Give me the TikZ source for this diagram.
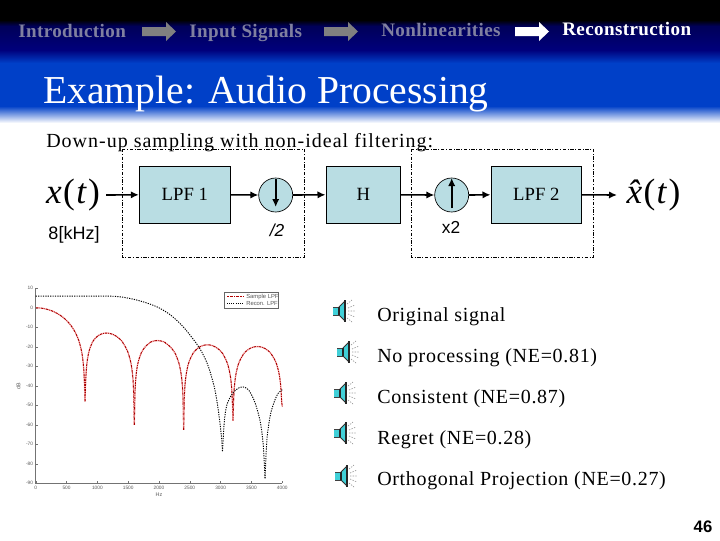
\documentclass[tikz,border=0pt]{standalone}
\usepackage{fontspec}
\setmainfont{Liberation Serif}
\setsansfont{Liberation Sans}
\usetikzlibrary{arrows.meta}
\definecolor{navytop}{HTML}{000058}
\definecolor{navybot}{HTML}{00007C}
\definecolor{bandblue}{HTML}{0040C8}
\definecolor{boxfill}{HTML}{B9DDE3}
\definecolor{crumb}{HTML}{8080A0}
\definecolor{crumbarrow}{HTML}{808080}
\definecolor{spk}{HTML}{40D0D8}
\newcommand{\bodyfont}{\fontsize{15}{18}\selectfont\addfontfeature{LetterSpace=3.4}}
\newcommand{\mathish}{\fontsize{26.5}{30}\selectfont}
\tikzset{
  x=0.75pt,y=-0.75pt,
  block/.style={draw=black,line width=0.7pt,fill=boxfill,inner sep=0pt},
  rate/.style={circle,draw=black,line width=0.5pt,fill=boxfill,inner sep=0pt,minimum size=25.5pt},
  conn/.style={draw=black,line width=1.2pt,-{Latex[length=6pt,width=5.5pt]}},
  inner arrow/.style={draw=black,line width=1.2pt,-{Latex[length=6pt,width=5.5pt]}},
  group box/.style={draw=black,line width=0.5pt,dash pattern=on 2.5pt off 1.2pt on 0.8pt off 1.2pt},
  blocktext/.style={font=\fontsize{14}{16}\selectfont},
  sanslabel/.style={font=\sffamily\fontsize{13.5}{15}\selectfont,inner sep=0pt},
  crumbtext/.style={font=\bfseries\fontsize{14.3}{15}\selectfont\addfontfeature{LetterSpace=2},anchor=base west,inner sep=0pt,text=crumb},
  menuarrow/.style={fill=crumbarrow,draw=none},
  listtext/.style={font=\bodyfont,anchor=base west,inner sep=0pt},
  tick label/.style={font=\sffamily\fontsize{3.6}{4}\selectfont,text=black!65,inner sep=0pt},
  speaker/.pic={
    \fill[spk] (-11,-4) rectangle (-5,4);
    \fill[spk] (-5,-4) -- (1,-10) -- (1,10) -- (-5,4) -- cycle;
    \draw[black!75,line width=0.6pt] (-11,-4) -- (-5,-4) (-11,4) -- (-5,4);
    \draw[black!85,line width=0.9pt] (-5,-4) -- (-5,4);
    \draw[black!80,line width=0.6pt] (-5,-4) -- (1,-10);
    \draw[black!80,line width=0.6pt] (-5,4) -- (1,10);
    \draw[black!85,line width=1.1pt] (1,-11) -- (1,11);
    \draw[black!40,line width=0.5pt,dash pattern=on 1pt off 1pt] (4,-3) -- (11,-6) (4,0) -- (12,0) (4,3) -- (11,6) (3,-7) -- (8,-11) (3,7) -- (8,11);
  }
}
\newcommand{\hdrarrow}[1]{(#1,27) -- (#1+24,27) -- (#1+24,22) -- (#1+34,31.5) -- (#1+24,41) -- (#1+24,36) -- (#1,36) -- cycle}
\begin{document}
\begin{tikzpicture}
\useasboundingbox (0,0) rectangle (720,540);
\fill[white] (0,0) rectangle (720,540);
% header bands
\fill[black] (0,0) rectangle (720,20);
\shade[top color=black,bottom color=navytop] (0,20) rectangle (720,26);
\shade[top color=navytop,bottom color=navybot] (0,26) rectangle (720,50);
\shade[top color=navybot,bottom color=bandblue] (0,50) rectangle (720,63);
\fill[bandblue] (0,63) rectangle (720,106);
\shade[top color=bandblue,bottom color=white] (0,106) rectangle (720,123);
% breadcrumb
\node[crumbtext] (crumbA) at (18,37) {Introduction};
\node[crumbtext] (crumbB) at (189,37) {Input Signals};
\node[crumbtext] (crumbC) at (381,36) {Nonlinearities};
\node[crumbtext,text=white] (crumbD) at (562,35.5) {Reconstruction};
\fill[menuarrow] \hdrarrow{142};
\fill[menuarrow] \hdrarrow{324};
\fill[white] \hdrarrow{515};
% title
\node[anchor=base west,inner sep=0pt,text=white,font=\fontsize{29.7}{34}\selectfont] (title) at (43,103) {Example: Audio Processing};
\node[listtext,font=\fontsize{15}{18}\selectfont\addfontfeature{LetterSpace=5}] (intro) at (46,147) {Down-up sampling with non-ideal filtering:};
% dash-dot groups
\draw[group box] (122.3,149) rectangle (304.3,257.3);
\draw[group box] (411.7,149) rectangle (593.3,257.3);
% blocks
\node[block,blocktext,minimum width=68.25pt,minimum height=42.4pt] (lpfa) at (184.8,194.8) {LPF 1};
\node[rate] (dn) at (275.7,195) {};
\node[block,blocktext,minimum width=56pt,minimum height=42.4pt] (hb) at (363.3,194.8) {H};
\node[rate] (up) at (451.7,195) {};
\node[block,blocktext,minimum width=68pt,minimum height=42.4pt] (lpfb) at (536.3,194.8) {LPF 2};
\node[inner xsep=4.5pt,inner ysep=0pt,font=\mathish] (xin) at (73,195) {{\itshape x}\kern1pt(\kern1pt{\itshape t}\kern1.5pt)};
\node[anchor=west,inner xsep=7pt,inner ysep=0pt,font=\mathish] (xout) at (617,195) {{\itshape\^x}\kern1pt(\kern1pt{\itshape t}\kern1.5pt)};
\draw[conn] (xin.east) -- (lpfa.west);
\draw[conn] (lpfa.east) -- (dn.west);
\draw[conn] (dn.east) -- (hb.west);
\draw[conn] (hb.east) -- (up.west);
\draw[conn] (up.east) -- (lpfb.west);
\draw[conn] (lpfb.east) -- (xout.west);
\coordinate (dnA) at (275.7,179);
\coordinate (dnB) at (275.7,207);
\coordinate (upA) at (451.7,208);
\coordinate (upB) at (451.7,178);
\draw[inner arrow] (dnA) -- (dnB);
\draw[inner arrow] (upA) -- (upB);
\node[sanslabel] (rateA) at (74,235) {8[kHz]};
\node[sanslabel,font=\sffamily\itshape\fontsize{13}{15}\selectfont] (rateB) at (277,230) {/2};
\node[sanslabel,font=\sffamily\fontsize{13}{15}\selectfont] (rateC) at (451,227) {x2};
% plot
\begin{scope}[shift={(35.7,307.8)},x=0.04624pt,y=1.4625pt]
  \draw[black!55,line width=0.5pt] (0,10) -- (0,-90) -- (4000,-90);
  \foreach \t in {0,500,...,4000} {
    \draw[black!55,line width=0.3pt] (\t,-90) -- (\t,-89);
    \node[tick label,anchor=north] at (\t,-91.2) {\t};
  }
  \foreach \d in {10,0,-10,-20,-30,-40,-50,-60,-70,-80,-90} {
    \draw[black!55,line width=0.3pt] (0,\d) -- (35,\d);
    \node[tick label,anchor=east] at (-40,\d) {\d};
  }
  \node[tick label,font=\sffamily\fontsize{4}{4}\selectfont] at (2000,-96) {Hz};
  \node[tick label,font=\sffamily\fontsize{4}{4}\selectfont,rotate=90] at (-280,-40) {dB};
  % sample LPF
  \foreach \a/\b/\la/\lb in {5/800/-48/-48,800/1600/-48/-60,1600/2400/-60/-62.6,2400/3200/-62.6/-58,3200/4000/-58/-50.7} {
    \pgfmathsetmacro{\m}{(\a+\b)/2}
    \draw[red!25,line width=1pt] plot[domain=\a:\b,samples=81] (\x,{max(20*log10(abs(sin(0.225*\x))/(10*sin(0.0225*\x))+0.00002),(\x<\m?\la:\lb))});
    \draw[red!65!black,line width=0.7pt,dash pattern=on 1.8pt off 0.7pt on 0.6pt off 0.7pt] plot[domain=\a:\b,samples=81] (\x,{max(20*log10(abs(sin(0.225*\x))/(10*sin(0.0225*\x))+0.00002),(\x<\m?\la:\lb))});
  }
  % reconstruction LPF
  \begin{scope}[black,line width=0.7pt,dash pattern=on 0.9pt off 0.9pt]
    \draw plot[smooth,tension=0.5] coordinates {(0,6) (800,6) (1200,6) (1400,5.5) (1600,4.3) (1800,2.5) (2000,0) (2200,-4) (2400,-10) (2600,-18) (2700,-23) (2800,-30) (2900,-41) (2960,-52) (3010,-65) (3030,-73.5)};
    \draw plot[smooth,tension=0.5] coordinates {(3030,-73.5) (3060,-58) (3100,-50) (3170,-45) (3250,-42) (3350,-40.5) (3450,-42) (3550,-48) (3640,-58) (3690,-70) (3720,-87.5)};
    \draw plot[smooth,tension=0.5] coordinates {(3720,-87.5) (3750,-68) (3800,-56) (3860,-49) (3930,-44) (4000,-42)};
  \end{scope}
\end{scope}
% legend
\draw[black!60,line width=0.35pt,fill=white] (224,292) rectangle (278,308);
\draw[red!70!black,line width=0.5pt,dash pattern=on 1.5pt off 0.6pt on 0.5pt off 0.6pt] (227,296.5) -- (244,296.5);
\draw[black,line width=0.5pt,dash pattern=on 0.8pt off 0.8pt] (227,303.5) -- (244,303.5);
\node[tick label,anchor=west,font=\sffamily\fontsize{4.4}{5}\selectfont] (legA) at (246,296.5) {Sample LPF};
\node[tick label,anchor=west,font=\sffamily\fontsize{4.4}{5}\selectfont] (legB) at (246,303.5) {Recon. LPF};
% speakers and list
\pic at (344,311) {speaker};
\pic at (348,352) {speaker};
\pic at (345,393) {speaker};
\pic at (345,433) {speaker};
\pic at (346,476) {speaker};
\node[listtext] (lA) at (377,321) {Original signal};
\node[listtext] (lB) at (377,362) {No processing (NE=0.81)};
\node[listtext] (lC) at (377,403) {Consistent (NE=0.87)};
\node[listtext] (lD) at (377,444) {Regret (NE=0.28)};
\node[listtext] (lE) at (377,485) {Orthogonal Projection (NE=0.27)};
\node[inner sep=0pt,font=\sffamily\bfseries\fontsize{12.5}{14}\selectfont] (page) at (703,527) {46};
\end{tikzpicture}
\end{document}
